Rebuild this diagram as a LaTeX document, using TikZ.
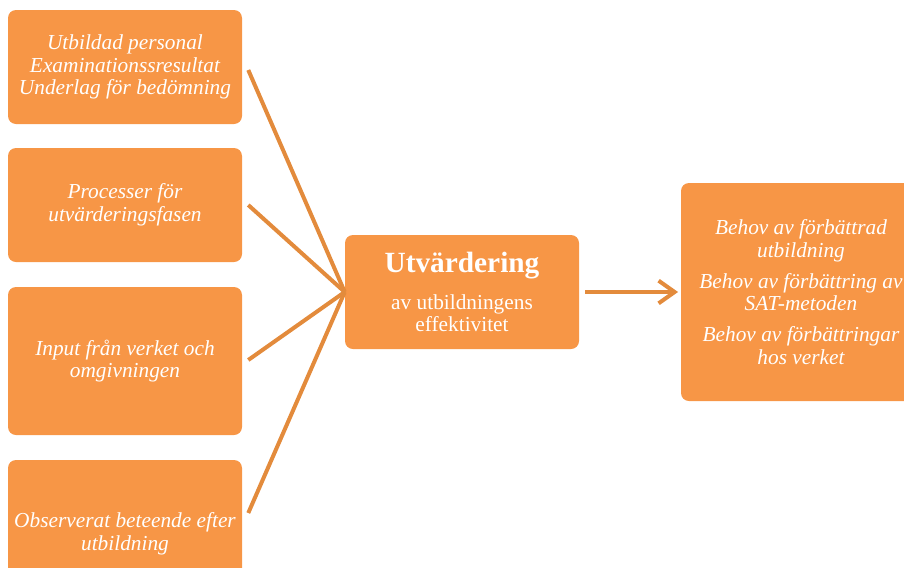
\documentclass[tikz,border=0pt]{standalone}
\usepackage{fontspec}
\setmainfont{Liberation Serif}
\usepackage{tikz}
\usetikzlibrary{arrows.meta, calc, positioning}
\usepackage{xcolor}
\definecolor{boxorange}{HTML}{F79646}
\definecolor{lineorange}{HTML}{E38B3C}

\begin{document}
\begin{tikzpicture}[x=0.75pt, y=-0.75pt,
    inbox/.style={fill=boxorange, rounded corners=6pt, text=white, align=center,
        font=\fontsize{16}{17}\selectfont\itshape, minimum width=175.5pt, inner sep=0pt},
    spoke/.style={draw=lineorange, line width=3pt}]
    % ram
    \useasboundingbox (0,0) rectangle (904,568);

    % indata
    \node[inbox, minimum height=85.5pt] (in1) at (125,67) {Utbildad personal\\Examinationssresultat\\Underlag för bedömning};
    \node[inbox, minimum height=85.5pt] (in2) at (125,205) {Processer för\\utvärderingsfasen};
    \node[inbox, minimum height=111pt] (in3) at (125,361) {Input från verket och\\omgivningen};
    \node[inbox, minimum height=111pt] (in4) at (125,534) {Observerat beteende efter\\utbildning};

    % utvärdering
    \node[inbox, minimum height=85.5pt, font=\fontsize{16}{17}\selectfont] (eval) at (462,292)
        {{\fontsize{22}{24}\selectfont\bfseries Utvärdering}\\[10.5pt]av utbildningens\\effektivitet};

    % behov
    \node[inbox, minimum width=180pt, minimum height=163.5pt] (need) at (801,292)
        {Behov av förbättrad\\utbildning\\[6pt]Behov av förbättring av\\SAT-metoden\\[6pt]Behov av förbättringar\\hos verket};

    % linjer
    \draw[spoke] ($(in1.east)+(6,3)$) -- (eval.west);
    \draw[spoke] ($(in2.east)+(6,0)$) -- (eval.west);
    \draw[spoke] ($(in3.east)+(6,-1)$) -- (eval.west);
    \draw[spoke] ($(in4.east)+(6,-21)$) -- (eval.west);
    \draw[spoke, -{Straight Barb[length=12pt, width=17pt, line width=3pt]}, shorten <=4.5pt, shorten >=2pt] (eval.east) -- (need.west);
\end{tikzpicture}
\end{document}
